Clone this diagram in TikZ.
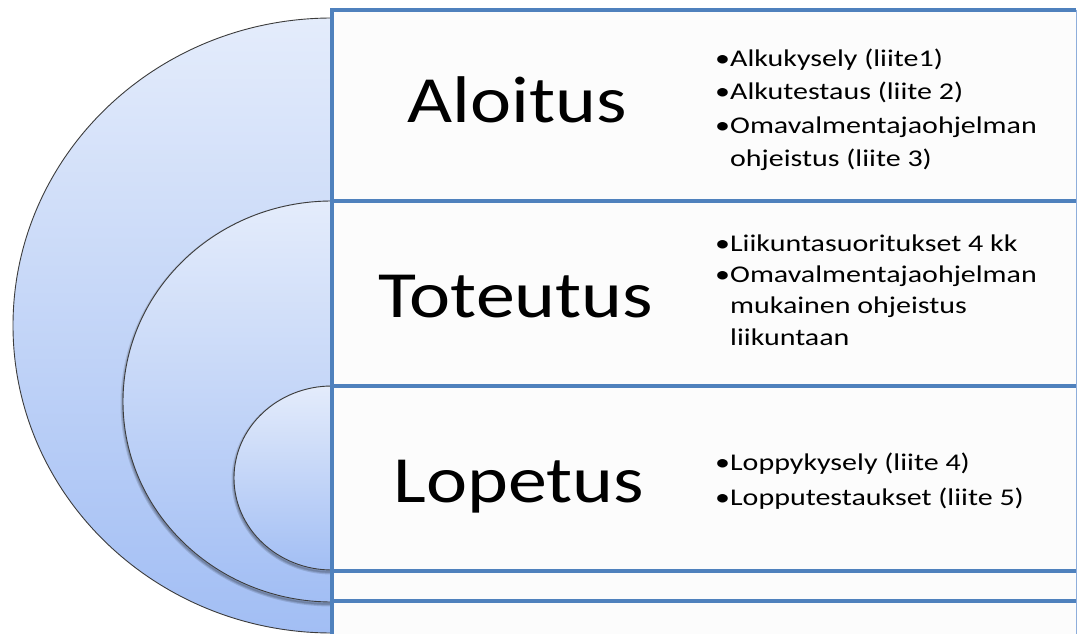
\documentclass[tikz,border=0pt]{standalone}
\usepackage{fontspec}
\usepackage{tikz}
\newfontfamily\phasefont[FakeStretch=1.18]{Carlito}
\newfontfamily\stepfont[FakeStretch=1.25]{Carlito}
\definecolor{PlanBlue}{HTML}{4F81BD}
\definecolor{PlanFrame}{HTML}{8EAEDB}
\definecolor{PlanLight}{HTML}{E4ECFB}
\definecolor{PlanDeep}{HTML}{A2BEF4}
\definecolor{PlanEdge}{HTML}{3C3C3C}
\definecolor{PlanPaper}{HTML}{FCFCFC}
\tikzset{
  halfdisc/.style={top color=PlanLight,bottom color=PlanDeep,draw=PlanEdge,line width=0.9pt},
  discshadow/.style={draw=black,line width=#1,opacity=0.12},
  rowline/.style={draw=PlanBlue,line width=3.2pt},
  phase/.style={font=\fontsize{66}{70}\selectfont\phasefont,inner sep=0pt,anchor=base},
  steps/.style={font=\fontsize{24}{#1}\selectfont\stepfont,inner sep=0pt,anchor=base west,align=left}
}
\begin{document}
\begin{tikzpicture}[x=1pt,y=-1pt]
  \useasboundingbox (0,0) rectangle (1077,634);
  \fill[white] (0,0) rectangle (1077,634);
  % nested half discs
  \begin{scope}
    \clip (0,0) rectangle (332,634);
    \path[halfdisc] (332,325.5) ellipse [x radius=319,y radius=307.5];
    \foreach \w in {5,3,1.5}
      \draw[discshadow=\w pt,yshift=-2pt] (332,401.5) ellipse [x radius=209,y radius=200.5];
    \path[halfdisc] (332,401.5) ellipse [x radius=209,y radius=200.5];
    \foreach \w in {5,3,1.5}
      \draw[discshadow=\w pt,yshift=-2pt] (332,478) ellipse [x radius=98,y radius=92];
    \path[halfdisc] (332,478) ellipse [x radius=98,y radius=92];
  \end{scope}
  % rows
  \fill[PlanPaper] (332,10) rectangle (1076,634);
  \foreach \y in {10,201,386,571,601}
    \draw[rowline] (332,\y) -- (1076,\y);
  \draw[rowline] (332,8.5) -- (332,634);
  \draw[PlanFrame,line width=1pt] (1076,10) -- (1076,634);
  \node[phase] (aloitus) at (517,122) {Aloitus};
  \node[phase] (toteutus) at (516,317) {Toteutus};
  \node[phase] (lopetus) at (519,502) {Lopetus};
  % base anchor sits on the last line
  \node[steps=33.4] (aloitusSteps) at (715,166.7) {•Alkukysely (liite1)\\•Alkutestaus (liite 2)\\•Omavalmentajaohjelman\\\phantom{•}ohjeistus (liite 3)};
  \node[steps=31.3] (toteutusSteps) at (715,345) {•Liikuntasuoritukset 4 kk\\•Omavalmentajaohjelman\\\phantom{•}mukainen ohjeistus\\\phantom{•}liikuntaan};
  \node[steps=34.3] (lopetusSteps) at (715,505) {•Loppykysely (liite 4)\\•Lopputestaukset (liite 5)};
\end{tikzpicture}
\end{document}
